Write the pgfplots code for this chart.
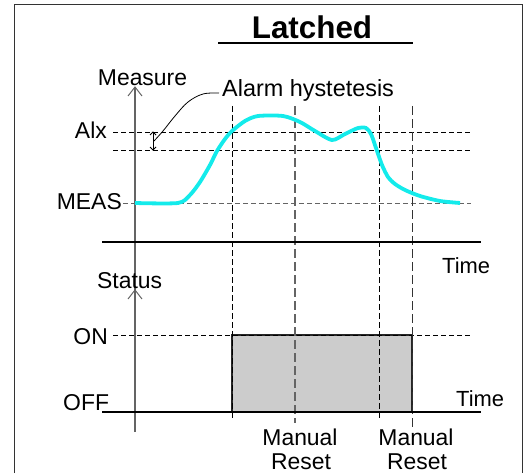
\documentclass[border=0pt]{standalone}
\usepackage{fontspec}
\setmainfont{Liberation Sans}
\usepackage{pgfplots}
\pgfplotsset{compat=1.18}
\usetikzlibrary{arrows.meta}
\definecolor{meascyan}{RGB}{20,235,235}
\definecolor{axgray}{RGB}{100,100,100}
\begin{document}
\begin{tikzpicture}
\begin{axis}[
  scale only axis, width=528bp, height=473bp,
  xmin=0, xmax=528, ymin=0, ymax=473, y dir=reverse,
  hide axis, clip=false,
]
\addplot[draw=none] coordinates {(0,0) (528,473)};
% frame
\addplot[black!80, line width=1bp] coordinates {(14,473) (14,5) (522,5) (522,473)};
% title underline
\addplot[black, line width=1.5bp] coordinates {(218,43) (413,43)};
% status box
\addplot[fill=black!20, draw=black!85, line width=1.8bp] coordinates {(232,412) (232,335) (412,335) (412,412) (232,412)};
% vertical axis
\addplot[axgray, line width=1.3bp] coordinates {(135,432) (135,88)};
\addplot[axgray, line width=1bp] coordinates {(128,96) (135,87) (142,96)};
\addplot[axgray, line width=1bp] coordinates {(128,299) (135,290) (142,299)};
% horizontal dashed reference lines
\addplot[black, line width=0.9bp, dash pattern=on 5bp off 3bp] coordinates {(113,132) (471,132)};
\addplot[black, line width=0.9bp, dash pattern=on 5bp off 3bp] coordinates {(113,150) (471,150)};
\addplot[axgray, line width=1bp, dash pattern=on 5bp off 3bp] coordinates {(123,203) (471,203)};
\addplot[black, line width=0.9bp, dash pattern=on 5bp off 3bp] coordinates {(113,335) (471,335)};
% vertical dashed lines
\addplot[black, line width=0.9bp, dash pattern=on 6bp off 3bp] coordinates {(232,106) (232,418)};
\addplot[axgray, line width=1.2bp, dash pattern=on 9bp off 4bp] coordinates {(295,106) (295,423)};
\addplot[black, line width=0.9bp, dash pattern=on 6bp off 3bp] coordinates {(379,106) (379,418)};
\addplot[black!80, line width=1bp, dash pattern=on 9bp off 4bp] coordinates {(412,106) (412,428)};
% time axes
\addplot[black, line width=1.5bp] coordinates {(102,242) (481,242)};
\addplot[black, line width=2.2bp] coordinates {(102,412) (481,412)};
% measure curve
\addplot[meascyan, line width=3.8bp, smooth, tension=0.45] coordinates {
 (135,203) (178,203) (190,195) (200,182) (210,165) (217,151) (225,139) (232,131)
 (245,121) (258,116) (283,116) (300,122) (315,131) (332,140) (345,134) (358,128)
 (366,128) (371,134) (376,148) (382,165) (388,177) (395,184) (405,190) (420,196)
 (440,201) (460,203)};
% hysteresis bracket
\addplot[black, line width=0.8bp] coordinates {(153,133) (153,149)};
\addplot[black, line width=0.8bp] coordinates {(150,135) (153,132) (156,135)};
\addplot[black, line width=0.8bp] coordinates {(150,147) (153,150) (156,147)};
% leader
\addplot[black, line width=0.8bp, smooth, tension=0.6] coordinates {(219,93) (203,94) (188,102) (175,116) (163,131) (154,141)};
% texts
\node[anchor=base, font=\fontsize{31.5}{34}\selectfont\bfseries] at (axis cs:312,39) {Latched};
\node[anchor=base, inner sep=0pt, font=\fontsize{23}{25}\selectfont] at (axis cs:142.5,86) {Measure};
\node[anchor=base west, inner sep=0pt, font=\fontsize{23.5}{25}\selectfont] at (axis cs:222,96) {Alarm hystetesis};
\node[anchor=base east, inner sep=0pt, font=\fontsize{23}{25}\selectfont] at (axis cs:107,138) {Alx};
\node[anchor=base east, inner sep=0pt, font=\fontsize{23}{25}\selectfont] at (axis cs:122,209) {MEAS};
\node[anchor=base west, inner sep=0pt, font=\fontsize{22}{24}\selectfont] at (axis cs:442,273) {Time};
\node[anchor=base west, inner sep=0pt, font=\fontsize{23}{25}\selectfont] at (axis cs:97,288) {Status};
\node[anchor=base east, inner sep=0pt, font=\fontsize{23}{25}\selectfont] at (axis cs:108,344) {ON};
\node[anchor=base west, inner sep=0pt, font=\fontsize{23}{25}\selectfont] at (axis cs:63,410) {OFF};
\node[anchor=base west, inner sep=0pt, font=\fontsize{22}{24}\selectfont] at (axis cs:456,406) {Time};
\node[anchor=base, inner sep=0pt, font=\fontsize{23}{25}\selectfont] at (axis cs:300,445) {Manual};
\node[anchor=base, inner sep=0pt, font=\fontsize{23}{25}\selectfont] at (axis cs:301,469) {Reset};
\node[anchor=base, inner sep=0pt, font=\fontsize{23}{25}\selectfont] at (axis cs:416,445) {Manual};
\node[anchor=base, inner sep=0pt, font=\fontsize{23}{25}\selectfont] at (axis cs:417,469) {Reset};
\end{axis}
\end{tikzpicture}
\end{document}
